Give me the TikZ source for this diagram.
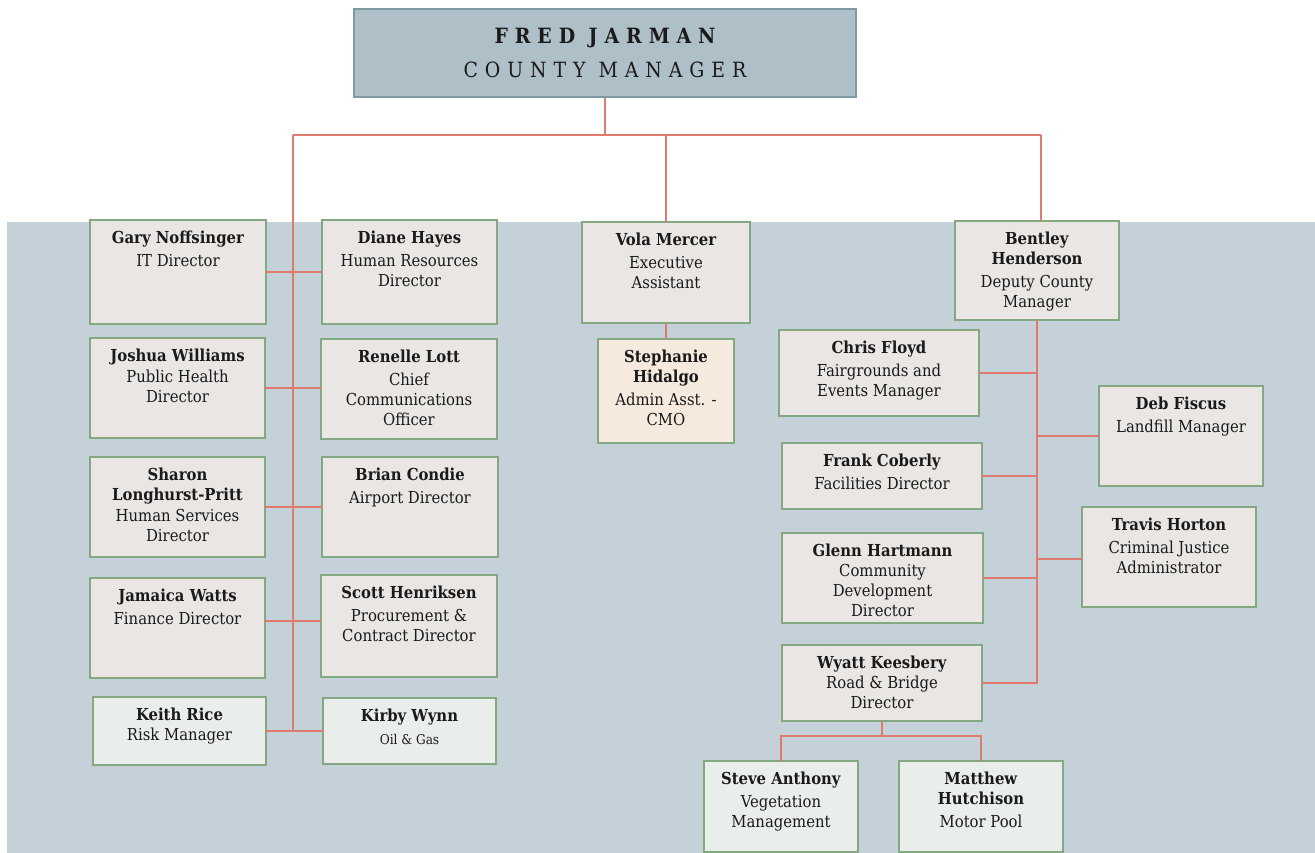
\documentclass[tikz,border=0pt]{standalone}
\usepackage{fontspec}
\setmainfont{DejaVu Serif Condensed}
\definecolor{bgc}{HTML}{C5D1D8}
\definecolor{boxfill}{HTML}{E9E6E3}
\definecolor{boxdraw}{HTML}{84A882}
\definecolor{lightfill}{HTML}{E9EEEA}
\definecolor{peach}{HTML}{F6EADF}
\definecolor{topfill}{HTML}{AEBFC8}
\definecolor{topdraw}{HTML}{7F98A2}
\definecolor{linec}{HTML}{E07A6C}
\definecolor{txt}{HTML}{1A1A1A}
\tikzset{
  box/.style={draw=boxdraw, fill=boxfill, line width=1.4pt, inner sep=0pt, outer sep=0pt},
  lightbox/.style={fill=lightfill},
  peachbox/.style={fill=peach},
  lbl/.style={anchor=north, align=center, inner sep=0pt, yshift=-11pt, text=txt,
    font=\fontsize{16.5}{20}\selectfont},
  conn/.style={draw=linec, line width=1.8pt},
  topbox/.style={draw=topdraw, fill=topfill, line width=1.2pt, align=center, text=txt,
    font=\fontsize{21}{34}\selectfont}
}
\newcommand\orgbox[7][]{%
  \node[box,#1,minimum width={(#5-#3)*1pt},minimum height={(#6-#4)*1pt},
    label={[lbl]north:{#7}}] (#2) at ({(#3+#5)/2},{(#4+#6)/2}) {};}
\newcommand\nm[1]{\textbf{#1}}
\begin{document}
\begin{tikzpicture}[x=1pt,y=-1pt]
\useasboundingbox (0,0) rectangle (1315,853);
\fill[white] (0,0) rectangle (1315,853);
\fill[bgc] (7,222) rectangle (1315,853);

\node[topbox, minimum width=502pt, minimum height=88pt] (top) at (605,53)
  {{\bfseries\addfontfeatures{LetterSpace=33}FRED JARMAN}\\
   {\addfontfeatures{LetterSpace=33}COUNTY MANAGER}};

% left column
\orgbox{gary}{90}{220}{266}{324}{\nm{Gary Noffsinger}\\[3pt]IT Director}
\orgbox{joshua}{90}{338}{265}{438}{\nm{Joshua Williams}\\[1pt]Public Health\\Director}
\orgbox{sharon}{90}{457}{265}{557}{\nm{Sharon}\\\nm{Longhurst-Pritt}\\[1pt]Human Services\\Director}
\orgbox{jamaica}{90}{578}{265}{678}{\nm{Jamaica Watts}\\[3pt]Finance Director}
\orgbox[lightbox]{keith}{93}{697}{266}{765}{\nm{Keith Rice}\\Risk Manager}
% second column
\orgbox{diane}{322}{220}{497}{324}{\nm{Diane Hayes}\\[3pt]Human Resources\\Director}
\orgbox{renelle}{321}{339}{497}{439}{\nm{Renelle Lott}\\[3pt]Chief\\Communications\\Officer}
\orgbox{brian}{322}{457}{498}{557}{\nm{Brian Condie}\\[3pt]Airport Director}
\orgbox{scott}{321}{575}{497}{677}{\nm{Scott Henriksen}\\[3pt]Procurement \&\\Contract Director}
\orgbox[lightbox]{kirby}{323}{698}{496}{764}{\nm{Kirby Wynn}\\[3pt]{\fontsize{13.5}{16}\selectfont Oil \& Gas}}
% middle
\orgbox{vola}{582}{222}{750}{323}{\nm{Vola Mercer}\\[3pt]Executive\\Assistant}
\orgbox[peachbox]{steph}{598}{339}{734}{443}{\nm{Stephanie}\\\nm{Hidalgo}\\[3pt]Admin Asst. -\\CMO}
% right
\orgbox{bentley}{955}{221}{1119}{320}{\nm{Bentley}\\\nm{Henderson}\\[3pt]Deputy County\\Manager}
\orgbox{chris}{779}{330}{979}{416}{\nm{Chris Floyd}\\[3pt]Fairgrounds and\\Events Manager}
\orgbox{deb}{1099}{386}{1263}{486}{\nm{Deb Fiscus}\\[3pt]Landfill Manager}
\orgbox{frank}{782}{443}{982}{509}{\nm{Frank Coberly}\\[3pt]Facilities Director}
\orgbox{travis}{1082}{507}{1256}{607}{\nm{Travis Horton}\\[3pt]Criminal Justice\\Administrator}
\orgbox{glenn}{782}{533}{983}{623}{\nm{Glenn Hartmann}\\Community\\Development\\Director}
\orgbox{wyatt}{782}{645}{982}{721}{\nm{Wyatt Keesbery}\\Road \& Bridge\\Director}
\orgbox[lightbox]{steve}{704}{761}{858}{852}{\nm{Steve Anthony}\\[3pt]Vegetation\\Management}
\orgbox[lightbox]{matt}{899}{761}{1063}{852}{\nm{Matthew}\\\nm{Hutchison}\\[3pt]Motor Pool}

% connectors
\coordinate (hub) at (605,135);
\coordinate (tl) at (293,135);
\coordinate (tr) at (1041,135);
\coordinate (tlb) at (293,731);
\coordinate (wbar) at (882,736);
\draw[conn] (top.south) -- (hub);
\draw[conn] (tl) -- (tr);
\draw[conn] (tl) -- (tlb);
\draw[conn] (vola.north |- tl) -- (vola.north);
\draw[conn] (tr) -- (tr |- bentley.north);

\draw[conn] (gary.east) -- (gary.east -| diane.west);
\draw[conn] (joshua.east) -- (joshua.east -| renelle.west);
\draw[conn] (sharon.east) -- (sharon.east -| brian.west);
\draw[conn] ([yshift=7pt]jamaica.east) -- ([yshift=7pt]jamaica.east -| scott.west);
\draw[conn] (keith.east) -- (keith.east -| kirby.west);

\draw[conn] (vola.south) -- (vola.south |- steph.north);

\draw[conn] (bentley.south) -- (bentley.south |- wyatt.east) -- (wyatt.east);
\draw[conn] (chris.east) -- (chris.east -| bentley.south);
\draw[conn] (deb.west) -- (deb.west -| bentley.south);
\draw[conn] (frank.east) -- (frank.east -| bentley.south);
\draw[conn] ([yshift=-2pt]travis.west) -- ([yshift=-2pt]travis.west -| bentley.south);
\draw[conn] (glenn.east) -- (glenn.east -| bentley.south);

\draw[conn] (wyatt.south) -- (wbar);
\draw[conn] (steve.north) |- (wbar) -| (matt.north);
\end{tikzpicture}
\end{document}
